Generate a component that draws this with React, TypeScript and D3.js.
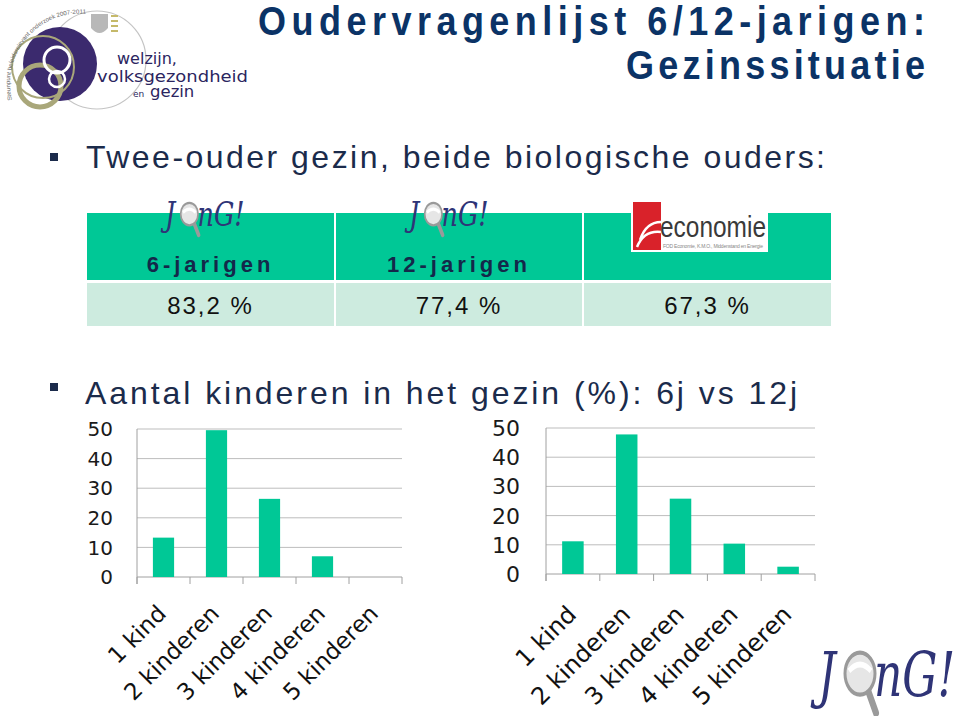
import React from "react";
import * as d3 from "d3";

// chart data
const categories = ["1 kind", "2 kinderen", "3 kinderen", "4 kinderen", "5 kinderen"];
const values6 = [13.3, 49.6, 26.4, 7.0, 0];
const values12 = [11.2, 47.8, 25.8, 10.4, 2.5];
const yTicks = [0, 10, 20, 30, 40, 50];

const tableHeads = ["6-jarigen", "12-jarigen", ""];
const tableValues = ["83,2 %", "77,4 %", "67,3 %"];

const GREEN = "#00c896";
const MINT = "#cdebdf";
const NAVY = "#0b3366";
const TXT = "#1b2b4b";

type BarProps = {
  values: number[];
  x0: number; x1: number; yBottom: number; yTop: number;
  labelRight: number; yFont: number; xFont: number; labDx: number; labDy: number;
};

const Bars = ({ values, x0, x1, yBottom, yTop, labelRight, yFont, xFont, labDx, labDy }: BarProps) => {
  const x = d3.scaleBand().domain(categories).range([x0, x1]).paddingInner(0.6).paddingOuter(0.3);
  const y = d3.scaleLinear().domain([0, 50]).range([yBottom, yTop]);
  const step = x.step();
  const off = (step - x.bandwidth()) / 2;
  const bounds = categories.map((c) => (x(c) as number) - off).concat([x1]);
  return (
    <g>
      {yTicks.map((t) => (
        <g key={t}>
          {t > 0 && <line x1={x0} x2={x1} y1={y(t)} y2={y(t)} stroke="#bdbdbd" strokeWidth={1} />}
          <text x={labelRight} y={y(t)} dy="0.36em" textAnchor="end" fontSize={yFont}
            fontFamily="DejaVu Sans, Verdana, sans-serif" fill="#1a1a1a">{t}</text>
        </g>
      ))}
      <line x1={x0} x2={x0} y1={yTop} y2={yBottom + 7} stroke="#a0a0a0" />
      <line x1={x0} x2={x1} y1={yBottom} y2={yBottom} stroke="#a0a0a0" />
      {bounds.map((b, i) => (
        <line key={i} x1={b} x2={b} y1={yBottom} y2={yBottom + 7} stroke="#a0a0a0" />
      ))}
      {categories.map((c, i) => (
        <rect key={c} x={x(c)} y={y(values[i])} width={x.bandwidth()} height={yBottom - y(values[i])} fill={GREEN} />
      ))}
      {categories.map((c) => {
        const cx = (x(c) as number) + x.bandwidth() / 2 + labDx;
        const cy = yBottom + labDy;
        return (
          <text key={c} x={cx} y={cy} transform={`rotate(-45 ${cx} ${cy})`} textAnchor="end"
            fontSize={xFont} fontFamily="DejaVu Sans, Verdana, sans-serif" fill="#111">{c}</text>
        );
      })}
    </g>
  );
};

const Jong = ({ x, y, sx, sy }: { x: number; y: number; sx: number; sy: number }) => (
  <g transform={`translate(${x},${y}) scale(${sx},${sy})`}>
    <text x={0} y={40} fontSize={44} fontStyle="italic" fontFamily="DejaVu Serif, serif" fill="#2f3477">J</text>
    <line x1={50} y1={36} x2={58} y2={52} stroke="#9a9a9a" strokeWidth={6} strokeLinecap="round" />
    <circle cx={42} cy={24} r={15} fill="#e6e6e6" stroke="#9a9a9a" strokeWidth={3} />
    <path d="M31,22 Q42,13 53,22" stroke="#fff" strokeWidth={4} fill="none" />
    <text x={56} y={40} fontSize={44} fontStyle="italic" fontFamily="DejaVu Serif, serif" fill="#2f3477">nG!</text>
  </g>
);

export default function App() {
  const colX = [87, 335, 583, 831];
  const tsx = 0.9;
  return (
    <svg width={960} height={716} style={{ position: "absolute", left: 0, top: 0, background: "#fff" }}>
      {/* logo top left */}
      <g>
        <circle cx={97} cy={60} r={49} fill="none" stroke="#c4c4c4" strokeWidth={1.2} />
        <ellipse cx={60} cy={64} rx={37} ry={37} fill="#3b2a6e" />
        <circle cx={43} cy={67} r={31} fill="none" stroke="#a9a77a" strokeWidth={2} />
        <circle cx={40} cy={86} r={21} fill="none" stroke="#a9a77a" strokeWidth={5} />
        <circle cx={57} cy={60} r={13} fill="none" stroke="#fff" strokeWidth={3} />
        <circle cx={57} cy={79} r={8} fill="none" stroke="#fff" strokeWidth={2.5} />
        <path id="arc" d="M12,100 A70,70 0 0 1 88,14" fill="none" />
        <text fontSize={6} fill="#666" fontFamily="Liberation Sans, Arial, sans-serif">
          <textPath href="#arc" textLength={132} lengthAdjust="spacingAndGlyphs">Steunpunt beleidsrelevant onderzoek 2007-2011</textPath>
        </text>
        <path d="M91,14 L108,14 L108,28 Q99.5,38 91,28 Z" fill="#b8b8b8" />
        {[16, 21, 26, 31].map((yy) => (
          <line key={yy} x1={111} x2={118} y1={yy} y2={yy} stroke="#c5b96a" strokeWidth={2} />
        ))}
        <text x={117} y={64} fontSize={16} fill="#2b2560" fontFamily="DejaVu Sans, sans-serif">welzijn,</text>
        <text x={97} y={82} fontSize={16.5} textLength={151} lengthAdjust="spacingAndGlyphs" fill="#2b2560" fontFamily="DejaVu Sans, sans-serif">volksgezondheid</text>
        <text x={133} y={97} fontSize={9} fill="#2b2560" fontFamily="DejaVu Sans, sans-serif">en</text>
        <text x={150} y={97} fontSize={16.5} fill="#2b2560" fontFamily="DejaVu Sans, sans-serif">gezin</text>
      </g>

      {/* title */}
      <g fontFamily="Liberation Sans, Arial, sans-serif" fontWeight="bold" fill={NAVY} fontSize={40}>
        <g transform={`translate(258,35) scale(${tsx},1)`}>
          <text x={0} y={0} textLength={667 / tsx} lengthAdjust="spacing">Oudervragenlijst 6/12-jarigen:</text>
        </g>
        <g transform={`translate(626,79) scale(${tsx},1)`}>
          <text x={0} y={0} textLength={299 / tsx} lengthAdjust="spacing">Gezinssituatie</text>
        </g>
      </g>

      {/* bullets */}
      <rect x={50} y={153} width={8} height={8} fill={TXT} />
      <text x={86} y={168} fontSize={32} fill={TXT} textLength={739} lengthAdjust="spacing"
        fontFamily="Liberation Sans, Arial, sans-serif">Twee-ouder gezin, beide biologische ouders:</text>
      <rect x={50} y={383} width={8} height={8} fill={TXT} />
      <text x={85} y={404} fontSize={32} fill={TXT} textLength={712} lengthAdjust="spacing"
        fontFamily="Liberation Sans, Arial, sans-serif">Aantal kinderen in het gezin (%): 6j vs 12j</text>

      {/* table */}
      {tableHeads.map((h, i) => {
        const a = colX[i] + (i > 0 ? 1 : 0);
        const b = colX[i + 1] - (i < 2 ? 1 : 0);
        const cx = (a + b) / 2;
        return (
          <g key={i}>
            <rect x={a} y={213} width={b - a} height={67} fill={GREEN} />
            <rect x={a} y={283} width={b - a} height={43} fill={MINT} />
            {h && (
              <text x={cx} y={272} textAnchor="middle" fontSize={22} fontWeight="bold" letterSpacing={4}
                fill="#14284a" fontFamily="Liberation Sans, Arial, sans-serif">{h}</text>
            )}
            <text x={cx} y={314} textAnchor="middle" fontSize={24} letterSpacing={2}
              fill="#111" fontFamily="Liberation Sans, Arial, sans-serif">{tableValues[i]}</text>
          </g>
        );
      })}
      <Jong x={165} y={196} sx={0.58} sy={0.75} />
      <Jong x={409} y={196} sx={0.58} sy={0.75} />
      {/* economie logo */}
      <g>
        <rect x={631} y={200} width={137} height={52} fill="#fff" />
        <rect x={633} y={202} width={28} height={48} fill="#d9222a" />
        <path d="M640,240 Q646,222 661,222 M637,247 Q644,230 661,232" stroke="#fff" strokeWidth={2.5} fill="none" />
        <text x={660} y={237} fontSize={30} textLength={106} lengthAdjust="spacingAndGlyphs" fill="#3a3a3a"
          fontFamily="Liberation Sans Narrow, Liberation Sans, Arial, sans-serif">economie</text>
        <text x={663} y={248} fontSize={5} fill="#888" textLength={100}
          fontFamily="Liberation Sans, Arial, sans-serif">FOD Economie, K.M.O., Middenstand en Energie</text>
      </g>

      {/* bar charts */}
      <Bars values={values6} x0={137} x1={402} yBottom={577} yTop={429} labelRight={113}
        yFont={20} xFont={23} labDx={4} labDy={38} />
      <Bars values={values12} x0={546} x1={815} yBottom={574} yTop={428} labelRight={520}
        yFont={22} xFont={24} labDx={5} labDy={42} />

      <Jong x={818} y={640} sx={1.0} sy={1.4} />
    </svg>
  );
}
